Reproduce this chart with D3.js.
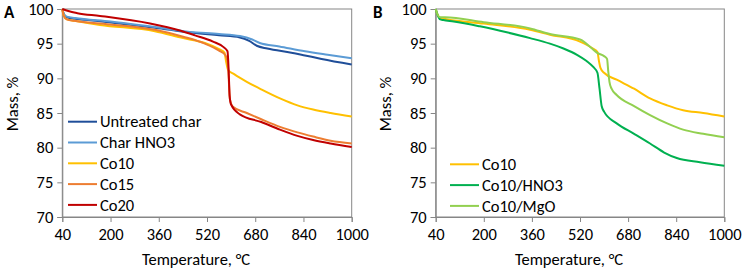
<!DOCTYPE html>
<html><head><meta charset="utf-8">
<script src="https://cdn.jsdelivr.net/npm/d3@7/dist/d3.min.js"></script>
<style>
html,body{margin:0;padding:0;background:#fff;}
svg{display:block;}
text{font-family:Carlito, Lato, "Open Sans", sans-serif;fill:#000;}
</style></head><body>
<svg id="c" width="743" height="269"></svg>
<script>
// ---------- data ----------
const xTicks = [40, 200, 360, 520, 680, 840, 1000];
const yTicks = [70, 75, 80, 85, 90, 95, 100];

const untreatedT = [40,45,55,82,150,250,347,463,560,629,660,685,720,800,845,900,1000];
const untreatedM = [100,99.3,98.8,98.6,98.3,97.8,97.3,96.6,96.2,95.9,95.4,94.7,94.3,93.7,93.3,92.8,92.0];

const charHNO3T = [40,45,55,82,200,347,463,560,629,670,695,760,845,920,1000];
const charHNO3M = [100,99.3,98.9,98.7,98.2,97.4,96.7,96.4,96.1,95.6,95.1,94.6,93.9,93.4,92.9];

const co10AT = [40,45,55,80,165,347,441,513,560,578,583,590,610,652,700,762,820,872,930,1000];
const co10AM = [100,99.0,98.5,98.3,97.7,96.8,95.8,95.1,94.2,93.7,92.5,91.2,90.6,89.5,88.4,87.1,86.1,85.5,85.0,84.5];

const co15T = [40,45,55,80,165,347,441,513,560,580,588,592,596,606,652,700,762,820,872,930,1000];
const co15M = [100,99.0,98.5,98.3,97.9,97.0,96.0,95.0,94.0,93.4,92.5,90.0,87.0,85.9,85.0,84.1,83.0,82.2,81.6,81.0,80.6];

const co20T = [40,60,90,165,331,430,480,540,575,588,592,595,600,629,700,762,820,872,930,1000];
const co20M = [100,99.7,99.4,99.0,97.9,96.9,96.2,95.3,94.5,93.9,91.0,87.5,86.2,84.8,83.7,82.6,81.7,81.1,80.6,80.1];

const co10BT = [40,45,55,80,200,354,420,520,563,578,583,588,600,642,700,753,810,863,930,1000];
const co10BM = [100,99.3,98.7,98.5,97.9,97.0,96.3,95.3,94.3,93.8,92.5,91.5,90.8,89.8,88.5,87.1,86.1,85.4,85.0,84.5];

const co10HNO3T = [40,45,55,65,100,187,280,354,420,465,510,542,565,578,585,592,600,642,700,753,800,842,919,1000];
const co10HNO3M = [100,99.3,98.5,98.4,98.2,97.5,96.6,95.8,95.0,94.3,93.4,92.5,91.6,90.8,88.5,86.0,85.2,83.5,82.0,80.6,79.3,78.5,77.9,77.4];

const co10MgOT = [40,45,55,71,200,354,420,520,560,576,600,610,614,618,625,642,700,753,810,863,930,1000];
const co10MgOM = [100,99.3,98.8,98.8,98.1,97.2,96.4,95.6,94.3,93.7,93.2,92.8,91.0,89.5,88.5,87.6,86.0,84.7,83.5,82.6,82.0,81.5];

const seriesA = [
  {name:"Untreated char", T:untreatedT, M:untreatedM, color:"#1F4E99"},
  {name:"Char HNO3", T:charHNO3T, M:charHNO3M, color:"#5B9BD5"},
  {name:"Co10", T:co10AT, M:co10AM, color:"#FFC000"},
  {name:"Co15", T:co15T, M:co15M, color:"#ED7D31"},
  {name:"Co20", T:co20T, M:co20M, color:"#C00000"}
];
const seriesB = [
  {name:"Co10", T:co10BT, M:co10BM, color:"#FFC000"},
  {name:"Co10/HNO3", T:co10HNO3T, M:co10HNO3M, color:"#00B050"},
  {name:"Co10/MgO", T:co10MgOT, M:co10MgOM, color:"#92D050"}
];

// ---------- drawing ----------
const svg = d3.select("#c");
const plotTop = 9, plotBottom = 217;
const FS = "16.5px";

function panel(opts){
  const {x0, x1, label, labelX, series, legX, legY} = opts;
  const g = svg.append("g");
  const x = d3.scaleLinear().domain([40,1000]).range([x0,x1]);
  const y = d3.scaleLinear().domain([70,100]).range([plotBottom,plotTop]);

  g.append("rect").attr("x",x0).attr("y",plotTop).attr("width",x1-x0).attr("height",plotBottom-plotTop)
    .attr("fill","none").attr("stroke","#868686").attr("stroke-width",1);

  const ya = g.append("g").attr("transform",`translate(${x0},0)`)
    .call(d3.axisLeft(y).tickValues(yTicks).tickFormat(d3.format("d")).tickSize(5).tickPadding(4));
  const xa = g.append("g").attr("transform",`translate(0,${plotBottom})`)
    .call(d3.axisBottom(x).tickValues(xTicks).tickFormat(d3.format("d")).tickSize(5).tickPadding(6));
  [ya,xa].forEach(a=>{
    a.selectAll("path,line").attr("stroke","#868686").attr("stroke-width",1);
    a.selectAll("text").style("font-size",FS).attr("fill","#000");
  });

  const line = d3.line().x(d=>x(d[0])).y(d=>y(d[1])).curve(d3.curveMonotoneX);
  series.forEach(s=>{
    const pts = s.T.map((t,i)=>[t,s.M[i]]);
    g.append("path").attr("d",line(pts)).attr("fill","none")
      .attr("stroke",s.color).attr("stroke-width",2).attr("stroke-linejoin","round");
  });

  series.forEach((s,i)=>{
    const yy = legY + i*20.8;
    g.append("line").attr("x1",legX).attr("x2",legX+29).attr("y1",yy).attr("y2",yy)
      .attr("stroke",s.color).attr("stroke-width",2);
    g.append("text").attr("x",legX+32).attr("y",yy).attr("dy","0.35em")
      .style("font-size",FS).text(s.name);
  });

  g.append("text").attr("x",(x0+x1)/2-11).attr("y",259).attr("dy","0.35em")
    .attr("text-anchor","middle").style("font-size",FS).text("Temperature, \u00B0C");
  g.append("text").attr("transform",`translate(${x0-50},104) rotate(-90)`)
    .attr("text-anchor","middle").attr("dy","0.35em").style("font-size",FS).text("Mass, %");
  g.append("text").attr("x",labelX).attr("y",12).attr("dy","0.35em")
    .style("font-size","17px").style("font-weight","bold").text(label);
}

panel({x0:62.3, x1:351.7, label:"A", labelX:4, series:seriesA, legX:68, legY:121.7});
panel({x0:435.7, x1:724.3, label:"B", labelX:373, series:seriesB, legX:450, legY:164.3});
</script>
</body></html>
